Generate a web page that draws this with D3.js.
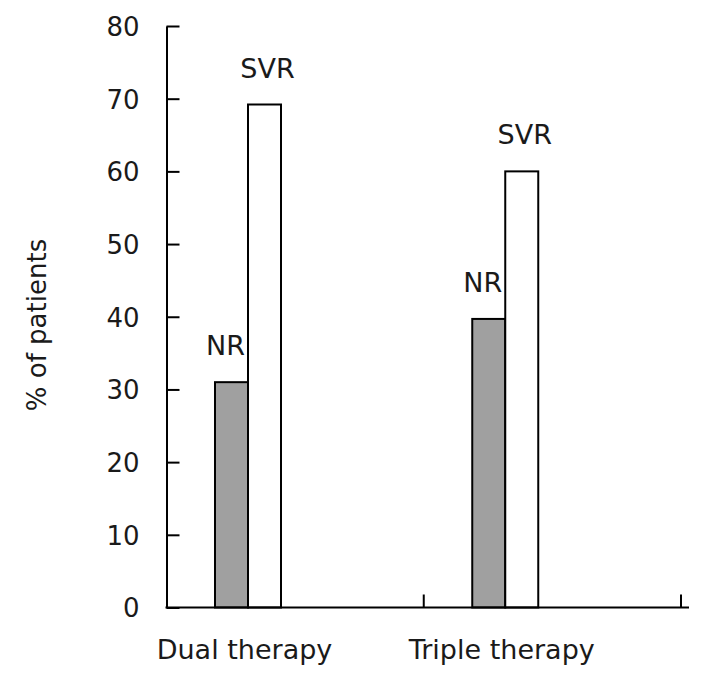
<!DOCTYPE html>
<html>
<head>
<meta charset="utf-8">
<script src="https://cdn.jsdelivr.net/npm/d3@7"></script>
<style>
  body { margin: 0; background: #fff; }
  svg text { font-family: "DejaVu Sans", Verdana, sans-serif; fill: #1a1a1a; }
</style>
</head>
<body>
<svg id="chart" width="710" height="682"></svg>
<script>
// data
let categories = ['Dual therapy', 'Triple therapy'];
let seriesNames = ['NR', 'SVR'];
let nrValues = [31, 39.7];
let svrValues = [69.2, 60];
let yTicks = [0, 10, 20, 30, 40, 50, 60, 70, 80];

let svg = d3.select('#chart');

// plot edges
let margL = 166.5;
let margR = 681;
let margT = 26;
let margB = 607.5;

let x = d3.scaleBand()
    .domain(categories)
    .range([margL, margR])
    .paddingInner(0)
    .paddingOuter(0);

// bars sit in the left part of each band
let xSeries = d3.scaleBand()
    .domain(seriesNames)
    .range([48.5, 114.5]);

let y = d3.scaleLinear()
    .domain([0, 80])
    .range([margB, margT]);

// flatten for drawing
let rows = [];
categories.forEach(function(c, i){
    rows.push({cat: c, name: 'NR', value: nrValues[i]});
    rows.push({cat: c, name: 'SVR', value: svrValues[i]});
});

// y axis with inward ticks
let yAxis = d3.axisLeft(y)
    .tickValues(yTicks)
    .tickSizeInner(-13)
    .tickSizeOuter(0)
    .tickPadding(27);

let yG = svg.append('g')
    .attr('transform', 'translate(' + margL + ',0)')
    .call(yAxis);
yG.select('.domain').attr('stroke', '#000').attr('stroke-width', 2);
yG.selectAll('.tick line').attr('stroke', '#000').attr('stroke-width', 2);
yG.selectAll('.tick text')
    .attr('font-size', 26)
    .attr('font-family', '"DejaVu Sans", Verdana, sans-serif')
    .attr('fill', '#1a1a1a')
    .attr('dy', '0.36em');

// bars
svg.append('g').selectAll('rect')
    .data(rows)
    .enter()
    .append('rect')
    .attr('x', function(d){ return x(d.cat) + xSeries(d.name); })
    .attr('y', function(d){ return y(d.value); })
    .attr('width', xSeries.bandwidth())
    .attr('height', function(d){ return y(0) - y(d.value); })
    .attr('fill', function(d){ return d.name === 'NR' ? '#a0a0a0' : '#fff'; })
    .attr('stroke', '#000')
    .attr('stroke-width', 2);

// bar labels
svg.append('g').selectAll('text')
    .data(rows)
    .enter()
    .append('text')
    .attr('x', function(d){
        let cx = x(d.cat) + xSeries(d.name) + xSeries.bandwidth() / 2;
        return d.name === 'NR' ? cx - 6 : cx + 3;
    })
    .attr('y', function(d){ return y(d.value) - 27; })
    .attr('text-anchor', 'middle')
    .attr('font-size', 27)
    .text(function(d){ return d.name; });

// x axis line and inward ticks at band edges
let xG = svg.append('g');
xG.append('line')
    .attr('x1', margL - 1)
    .attr('x2', margR + 8)
    .attr('y1', margB)
    .attr('y2', margB)
    .attr('stroke', '#000')
    .attr('stroke-width', 2);
let edges = categories.map(function(c){ return x(c); }).concat([margR]);
xG.selectAll('.xtick')
    .data(edges.slice(1))
    .enter()
    .append('line')
    .attr('class', 'xtick')
    .attr('x1', function(d){ return d; })
    .attr('x2', function(d){ return d; })
    .attr('y1', margB)
    .attr('y2', margB - 13)
    .attr('stroke', '#000')
    .attr('stroke-width', 2);

// category labels
xG.selectAll('.xlabel')
    .data(categories)
    .enter()
    .append('text')
    .attr('class', 'xlabel')
    .attr('x', function(c){ return x(c) + 78; })
    .attr('y', 659)
    .attr('text-anchor', 'middle')
    .attr('font-size', 27)
    .text(function(c){ return c; });

// y title
svg.append('text')
    .attr('transform', 'translate(46,' + 325 + ') rotate(-90)')
    .attr('text-anchor', 'middle')
    .attr('font-size', 26)
    .text('% of patients');
</script>
</body>
</html>
